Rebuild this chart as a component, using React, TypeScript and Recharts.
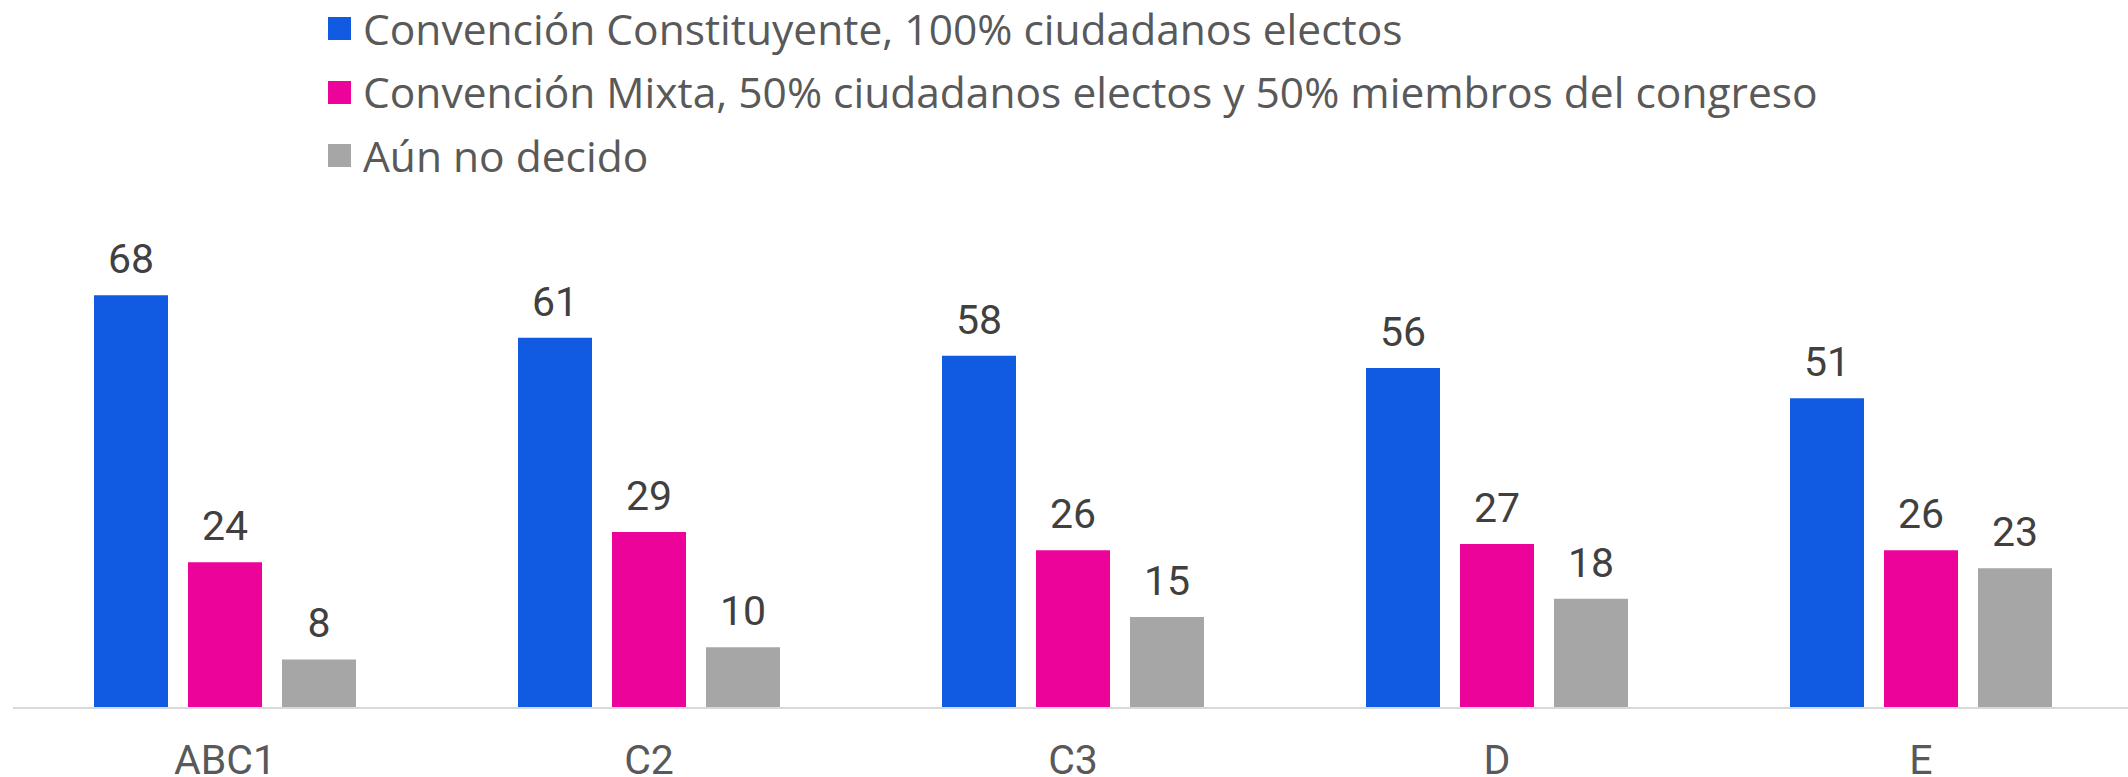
import { BarChart, Bar, XAxis, YAxis, Legend, LabelList } from "recharts"

const categories = ["ABC1", "C2", "C3", "D", "E"]
const constituyente = [68, 61, 58, 56, 51]
const mixta = [24, 29, 26, 27, 26]
const noDecidido = [8, 10, 15, 18, 23]

const seriesNames = [
  "Convención Constituyente, 100% ciudadanos electos",
  "Convención Mixta, 50% ciudadanos electos y 50% miembros del congreso",
  "Aún no decido",
]
const seriesKeys = ["constituyente", "mixta", "noDecidido"]
const seriesColors = ["#115BE3", "#EC0399", "#A6A6A6"]

const data = categories.map((segment, i) => ({
  segment,
  constituyente: constituyente[i],
  mixta: mixta[i],
  noDecidido: noDecidido[i],
}))

const FONT = "Roboto, 'Noto Sans', sans-serif"
const LEGEND_FONT = "'Open Sans', Roboto, sans-serif"

function LegendRows() {
  return (
    <div style={{ fontFamily: LEGEND_FONT }}>
      {seriesNames.map((name, i) => (
        <div key={name} style={{ display: "flex", alignItems: "center", height: 63.5 }}>
          <span
            style={{
              display: "inline-block",
              width: 23,
              height: 23,
              background: seriesColors[i],
              marginRight: 12,
            }}
          />
          <span style={{ fontSize: 42.5, color: "#595959", lineHeight: 1, whiteSpace: "nowrap" }}>
            {name}
          </span>
        </div>
      ))}
    </div>
  )
}

export default function App() {
  return (
    <div style={{ position: "absolute", left: 0, top: 0, width: 2128, height: 777, overflow: "hidden", background: "#fff" }}>
      <BarChart
        width={2128}
        height={777}
        data={data}
        margin={{ top: 283, right: -5, left: 13, bottom: 29 }}
        barGap={20}
        barSize={74}
        style={{ fontFamily: FONT }}
      >
        <XAxis
          dataKey="segment"
          axisLine={{ stroke: "#d9d9d9", strokeWidth: 2 }}
          tickLine={false}
          tickSize={0}
          tickMargin={37}
          height={40}
          tick={{ fill: "#595959", fontSize: 41 }}
        />
        <YAxis hide domain={[0, 70]} />
        <Legend
          layout="vertical"
          align="center"
          verticalAlign="middle"
          wrapperStyle={{ top: -3, left: 328, width: "auto" }}
          content={() => <LegendRows />}
        />
        {seriesKeys.map((key, i) => (
          <Bar key={key} dataKey={key} name={seriesNames[i]} fill={seriesColors[i]} isAnimationActive={false}>
            <LabelList dataKey={key} position="top" offset={22} fill="#404040" fontSize={41} />
          </Bar>
        ))}
      </BarChart>
    </div>
  )
}
